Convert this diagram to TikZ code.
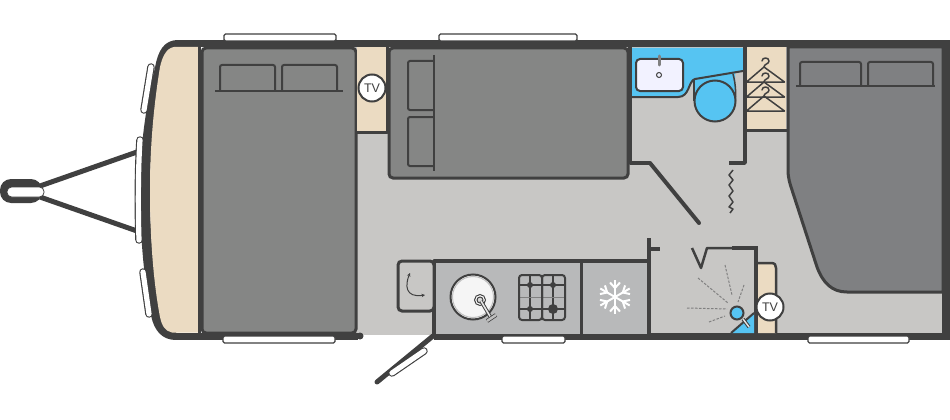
\documentclass[tikz,border=0pt]{standalone}
\usepackage{fontspec}
\setmainfont{Liberation Sans}
\usetikzlibrary{arrows.meta}
\definecolor{wall}{HTML}{404040}
\definecolor{floorc}{HTML}{C8C7C5}
\definecolor{bedc}{HTML}{858685}
\definecolor{bedd}{HTML}{7F8082}
\definecolor{beige}{HTML}{EBDBC2}
\definecolor{bluec}{HTML}{56C4F2}
\definecolor{kit}{HTML}{B8B9BA}
\tikzset{
  wallline/.style={draw=wall,line width=3.5pt,line join=round},
  bedshape/.style={draw=wall,line width=3pt,fill=bedc,rounded corners=4pt},
  pillow/.style={draw=wall,line width=2pt,rounded corners=2pt},
  windowpane/.style={draw=wall,line width=1.2pt,fill=white,rounded corners=1.5pt},
  paneout/.style={draw=wall,line width=7.5pt,line cap=round},
  panein/.style={draw=white,line width=5.2pt,line cap=round},
  tvnode/.style={circle,draw=wall,line width=2pt,fill=white,minimum size=27pt,inner sep=0pt,font=\fontsize{12.5}{13}\selectfont,text=wall},
  ray/.style={draw=gray,line width=1pt,dash pattern=on 2.5pt off 1.5pt},
  flake/.style={draw=white,line width=2pt},
  hanger/.style={draw=wall,line width=1.5pt,line join=round,line cap=round},
  tinyarrow/.style={draw=wall,line width=1pt,{Stealth[length=3.5pt,width=3.5pt]}-{Stealth[length=3.5pt,width=3.5pt]}}
}
\begin{document}
\begin{tikzpicture}[x=1pt,y=-1pt]
\useasboundingbox (0,0) rectangle (950,420);
% floor
\fill[floorc] (350,44) rectangle (946,335);
% A-frame
\draw[wall,line width=5pt] (40,186) -- (137,152);
\draw[wall,line width=5pt] (40,197) -- (137,231);
\fill[wall,rounded corners=11pt] (0,179) rectangle (42,203);
\draw[wall,line width=.8pt,fill=white,rounded corners=4.5pt] (7,187) rectangle (44,197);
% shell
\draw[wall,line width=7pt] (175,44) -- (950,44);
\draw[wall,line width=7pt] (175,336) -- (358,336);
\fill[wall] (360,336) circle (3.5pt);
\draw[wall,line width=7pt] (434,336) -- (950,336);
\draw[wall,line width=8pt] (946,40.5) -- (946,339.5);
\draw[wall,line width=10pt,line join=round]
  (178,45) .. controls (168,45) and (163,52) .. (160,68) .. controls (150,110) and (145,150) .. (145,190) .. controls (145,235) and (149,280) .. (156,315) .. controls (159,328) and (165,335) .. (176,335);
% beige front
\fill[beige] (198,47) -- (174,47) .. controls (166,48) and (162,58) .. (160,67) .. controls (153,110) and (150,150) .. (150,190) .. controls (150,235) and (153,280) .. (160,317) .. controls (162,326) and (165,331) .. (172,332.5) -- (198,332.5) -- cycle;
% windows outer
\coordinate (wa) at (151,67); \coordinate (wb) at (144,110);
\draw[paneout] (wa) -- (wb); \draw[panein] (wa) -- (wb);
\coordinate (wc) at (140,140); \coordinate (wd) at (139,240);
\draw[paneout] (wc) .. controls (138,170) and (138,210) .. (wd);
\draw[panein] (wc) .. controls (138,170) and (138,210) .. (wd);
\coordinate (we) at (143,272); \coordinate (wf) at (149,314);
\draw[paneout] (we) -- (wf); \draw[panein] (we) -- (wf);
\draw[windowpane] (224,34) rectangle (336,41);
\draw[windowpane] (439,34) rectangle (577,41);
\draw[windowpane] (223,336) rectangle (335,343);
\draw[windowpane] (502,336) rectangle (565,343);
\draw[windowpane] (808,336) rectangle (909,343);
% door
\draw[wall,line width=5pt,line cap=round] (433,336) -- (377,382);
\coordinate (da) at (392,373); \coordinate (db) at (424,351);
\draw[paneout] (da) -- (db); \draw[panein] (da) -- (db);
% bed 1
\draw[wall,line width=3pt] (199,47) -- (199,333);
\draw[bedshape] (202,48) rectangle (356,333);
\draw[pillow] (220,90) -- (220,65) -- (275,65) -- (275,90);
\draw[pillow] (282,90) -- (282,65) -- (337,65) -- (337,90);
\draw[wall,line width=2pt] (215,91) -- (343,91);
% TV cabinet
\fill[beige] (357,47) rectangle (387,131);
\draw[wall,line width=3pt,line join=round] (357,132) -- (387,132) -- (387,47);
\node[tvnode] (tvone) at (372,88) {TV};
% bed 2
\draw[bedshape] (389,48) rectangle (628,178);
\draw[pillow] (434,61) -- (408,61) -- (408,110) -- (434,110);
\draw[pillow] (434,117) -- (408,117) -- (408,166) -- (434,166);
\draw[wall,line width=2pt] (434,55) -- (434,171);
% bathroom
\fill[bluec] (631,48) -- (743,48) -- (743,71) -- (695,79) .. controls (688,81) and (690,97) .. (678,97) -- (631,97) -- cycle;
\fill[bluec] (695,79) -- (735,72) -- (735,101) -- (695,101) -- cycle;
\draw[wall,line width=2pt] (631,97) -- (678,97) .. controls (690,97) and (688,81) .. (695,79) -- (743,71);
\draw[wall,line width=1.5pt] (694,80) -- (694,101);
\draw[wall,line width=1.5pt] (733,74) .. controls (736,85) and (736,95) .. (735,103);
\draw[wall,line width=2pt,fill=bluec] (715,101) circle (20.5pt);
\draw[wall,line width=2pt,fill=white!95!blue,rounded corners=4pt] (636,59) rectangle (683,91);
\draw[gray,line width=3pt,line cap=round] (659,56) -- (659,65);
\draw[wall,line width=1pt] (659,75) circle (2.5pt);
\draw[wallline] (630,47) -- (630,163) -- (650,163);
\draw[wall,line width=4pt,line cap=round] (650,163) -- (699,223);
\draw[wallline] (745,47) -- (745,163) -- (729,163);
% wardrobe
\fill[beige] (746.5,47.5) rectangle (786,129);
\draw[wall,line width=3pt] (745,130) -- (788,130);
\foreach \yy in {0,15,29}{
  \begin{scope}[shift={(0,\yy)}]
  \draw[hanger] (746.5,82) -- (784.5,82) -- (764,67) -- (746.5,82);
  \draw[hanger] (764,67) .. controls (764,64) and (769,64) .. (769,61) .. controls (769,57) and (762,57) .. (762,61);
  \end{scope}
}
% bed 3
\draw[draw=wall,line width=3pt,fill=bedd] (788,47) -- (788,170) .. controls (788,178) and (790,184) .. (792,190) -- (817,267) .. controls (823,283) and (832,292) .. (847,292) -- (943,292) -- (943,47) -- cycle;
\draw[pillow] (800,85) -- (800,62) -- (861,62) -- (861,85);
\draw[pillow] (868,85) -- (868,62) -- (933,62) -- (933,85);
\draw[wall,line width=2pt] (796,85.5) -- (935,85.5);
% zigzag
\draw[wall,line width=1.5pt,line join=round] (733,170) -- (729,175) -- (733,180) -- (729,185) -- (733,191) -- (729,196) -- (733,202) -- (729,207) -- (733,209) -- (730,213);
% kitchen
\fill[kit] (434,261) rectangle (649,334);
\draw[wallline] (434,336) -- (434,261) -- (649,261);
\draw[wall,line width=3pt] (581,261) -- (581,334);
\draw[wallline] (649,238) -- (649,336);
\draw[wall,line width=4pt] (649,249) -- (660,249);
% cupboard
\draw[wall,line width=3pt,fill=floorc,rounded corners=4pt] (398,261) rectangle (434,311);
\draw[tinyarrow] (410,273) .. controls (405,285) and (405,298) .. (425,295);
% sink
\draw[wall,line width=2pt,fill=white!92!gray] (473,297) circle (22.5pt);
\draw[gray!50,line width=1pt] (473,297) circle (20.5pt);
\draw[wall,line width=1pt,fill=white] (480,300) circle (5.5pt);
\draw[wall,line width=1pt,fill=gray!30] (480,300) circle (3pt);
\draw[wall,line width=3.5pt] (481,301) -- (491,318);
\draw[white!80!gray,line width=1.6pt] (481,301) -- (491,318);
\coordinate (tapa) at (487,321); \coordinate (tapb) at (496,315);
\draw[wall,line width=4pt] (tapa) -- (tapb);
\draw[gray!50,line width=2.4pt] (tapa) -- (tapb);
% hob
\draw[wall,line width=1.2pt] (530,275) -- (530,320) (553,275) -- (553,320) (519,285) -- (565,285) (519,309) -- (565,309);
\draw[gray,line width=1pt] (519,297) -- (565,297);
\draw[wall,line width=2pt,rounded corners=3pt] (519,275) rectangle (542,320);
\draw[wall,line width=2pt,rounded corners=3pt] (542,275) rectangle (565,320);
\fill[wall] (530,285) circle (3pt) (553,285) circle (3pt) (530,309) circle (3pt) (553,309) circle (5pt);
% snowflake
\foreach \a in {30,90,150,210,270,330}{
  \begin{scope}[shift={(615,297)},rotate=\a]
    \draw[flake] (0,0) -- (17,0);
    \draw[flake] (9,0) -- (14.5,5) (9,0) -- (14.5,-5);
  \end{scope}
}
% shower room
\draw[wall,line width=2.5pt,line join=round] (692,248) -- (701,268) -- (707,248) -- (733,248);
\draw[wall,line width=4pt] (732,248) -- (758,248);
\draw[wallline] (756,248) -- (756,336);
\draw[ray] (725,265) -- (732,295);
\draw[ray] (698,278) -- (728,303);
\draw[ray] (744,285) -- (738,302);
\draw[ray] (687,308) -- (727,309);
\draw[ray] (709,322) -- (725,316);
\fill[bluec] (731,333) -- (754,313) -- (754,333) -- cycle;
\draw[wall,line width=2pt] (731,333) -- (754,313);
\draw[wall,line width=3.5pt] (743,319) -- (749,327);
\draw[white!80!gray,line width=1.4pt] (743,319) -- (749,327);
\draw[wall,line width=2pt,fill=bluec] (737,313) circle (6.5pt);
% TV unit 2
\fill[beige] (758,263) -- (773,263) -- (776,266) -- (776,333) -- (758,333) -- cycle;
\draw[wall,line width=2.5pt,line join=round] (758,263) -- (771,263) .. controls (775,263) and (776,265) .. (776,268) -- (776,333);
\node[tvnode] (tvtwo) at (770,307) {TV};
\end{tikzpicture}
\end{document}
